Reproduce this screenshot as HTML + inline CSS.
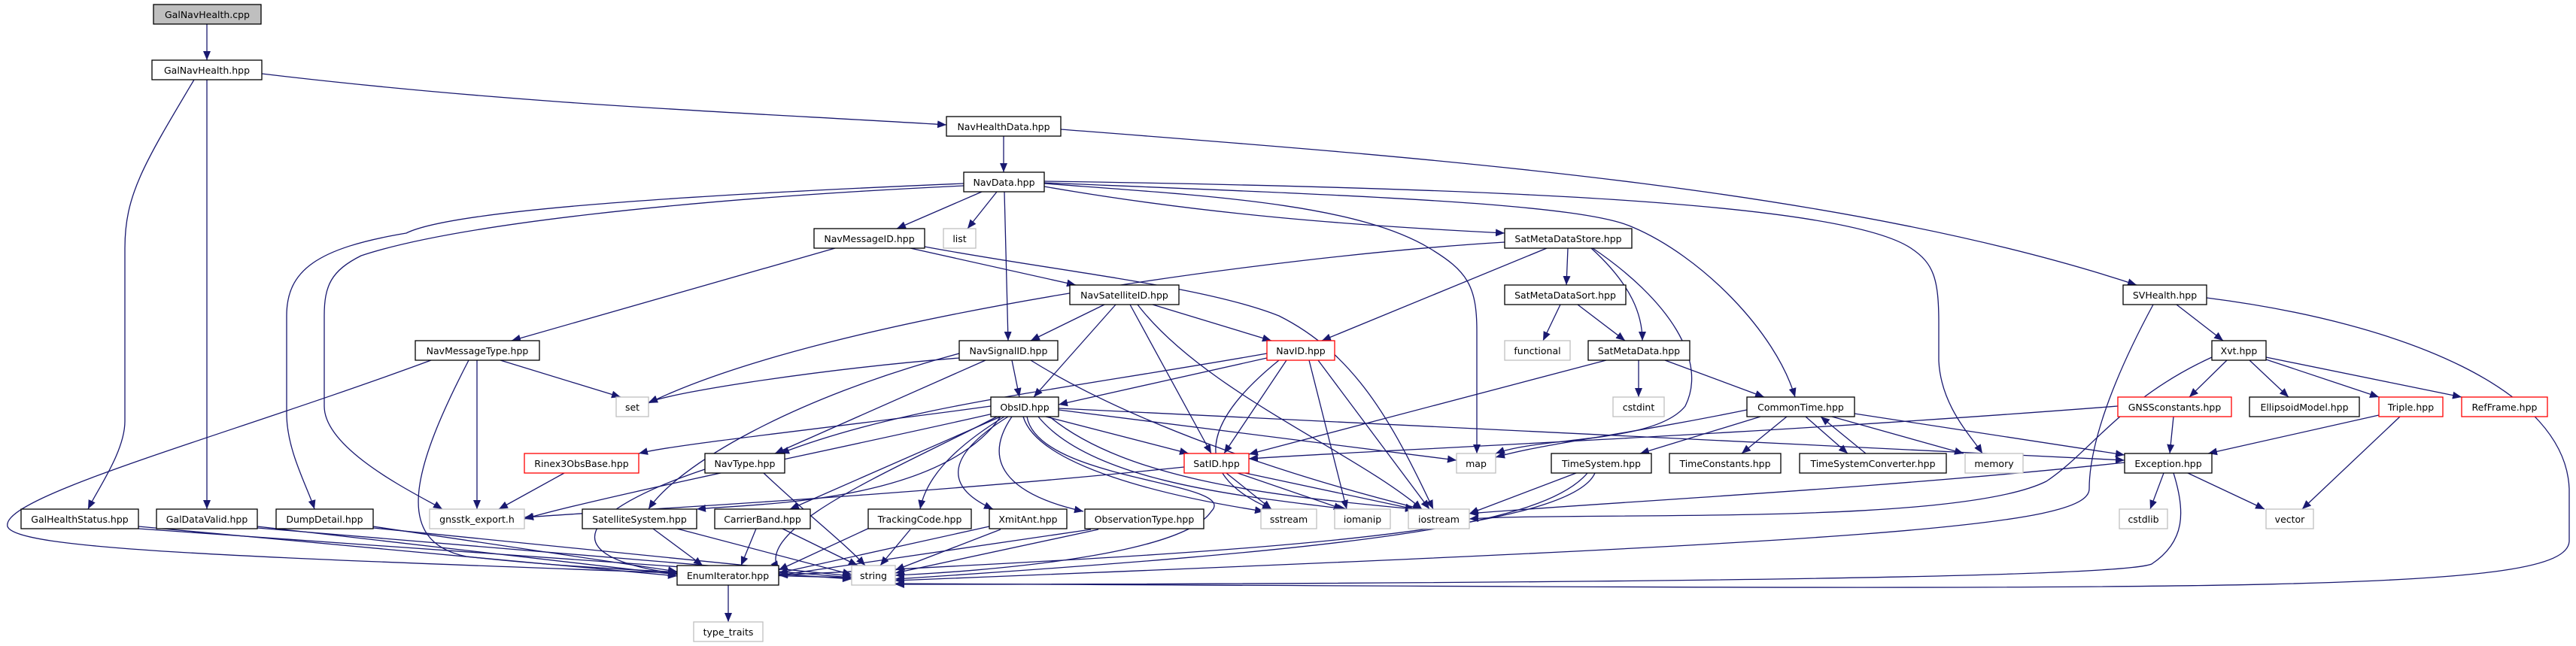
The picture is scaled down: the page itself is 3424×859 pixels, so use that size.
<!DOCTYPE html>
<html><head><meta charset="utf-8"><style>
html,body{margin:0;padding:0;background:#fff;}
svg{display:block;}
text{font-family:"DejaVu Sans","Liberation Sans",sans-serif;font-size:12.5px;fill:#000;text-anchor:middle;}
.e{fill:none;stroke:#191970;stroke-width:1.3;marker-end:url(#a);}
.n{fill:#fff;stroke:#000;stroke-width:1.3;}
.g{fill:#fff;stroke:#bfbfbf;stroke-width:1.3;}
.r{fill:#fff;stroke:#ff0000;stroke-width:1.3;}
</style></head><body>
<svg width="3424" height="859" viewBox="0 0 3424 859" xmlns="http://www.w3.org/2000/svg">
<defs><marker id="a" markerUnits="userSpaceOnUse" markerWidth="12" markerHeight="10" refX="12" refY="5" orient="auto"><path d="M0,0 L12,5 L0,10 z" fill="#191970"/></marker></defs>
<g>
<path class="e" d="M275,32 L275,80"/>
<path class="e" d="M348,98 C700,140 1000,150 1258,166"/>
<path class="e" d="M258,106 C190,220 166,260 166,330 L166,560 C166,600 130,650 117,677"/>
<path class="e" d="M275,106 L275,677"/>
<path class="e" d="M1334,181 L1334,229"/>
<path class="e" d="M1410,172 C1900,210 2450,250 2840,379"/>
<path class="e" d="M1305,255 L1192,304"/>
<path class="e" d="M1325,255 L1286,304"/>
<path class="e" d="M1335,255 L1340,453"/>
<path class="e" d="M1388,248 C1600,285 1800,300 2000,310"/>
<path class="e" d="M1281,244 C900,260 600,280 540,310 C420,330 381,360 381,420 L381,550 C381,600 410,650 418,677"/>
<path class="e" d="M1281,247 C900,265 600,300 480,340 C440,360 431,380 431,420 L431,540 C431,600 560,660 588,677"/>
<path class="e" d="M1388,244 C1600,260 1800,270 1900,330 C1950,360 1963,380 1963,440 L1963,603"/>
<path class="e" d="M1388,243 C1800,260 2100,270 2170,302 C2260,340 2360,440 2386,528"/>
<path class="e" d="M1388,241 C2000,250 2450,270 2540,330 C2570,350 2577,370 2577,430 L2577,480 C2580,540 2620,580 2635,603"/>
<path class="e" d="M1110,330 L680,453"/>
<path class="e" d="M1210,330 L1430,379"/>
<path class="e" d="M1229,328 C1400,360 1600,380 1700,420 C1800,470 1850,560 1905,677"/>
<path class="e" d="M665,479 L825,528"/>
<path class="e" d="M634,479 L634,677"/>
<path class="e" d="M573,479 C300,580 0,660 10,700 C20,730 300,740 900,762"/>
<path class="e" d="M623,479 C550,620 520,720 620,740 C800,760 1000,765 1132,768"/>
<path class="e" d="M2000,322 C1700,340 1100,420 862,536"/>
<path class="e" d="M2056,330 L1757,453"/>
<path class="e" d="M2084,330 L2082,379"/>
<path class="e" d="M2115,330 C2170,380 2183,420 2183,453"/>
<path class="e" d="M2117,330 C2220,400 2270,480 2240,540 C2200,590 2050,580 1988,603"/>
<path class="e" d="M1468,405 L1370,453"/>
<path class="e" d="M1483,405 L1374,528"/>
<path class="e" d="M1532,405 L1690,453"/>
<path class="e" d="M1502,405 L1610,603"/>
<path class="e" d="M1512,405 C1600,520 1800,600 1890,677"/>
<path class="e" d="M2074,405 L2051,453"/>
<path class="e" d="M2097,405 L2160,453"/>
<path class="e" d="M2178,479 L2178,528"/>
<path class="e" d="M2135,479 L1660,604"/>
<path class="e" d="M2213,479 L2345,528"/>
<path class="e" d="M1275,476 C1100,490 900,520 862,535"/>
<path class="e" d="M1345,479 L1355,528"/>
<path class="e" d="M1310,479 L1030,603"/>
<path class="e" d="M1275,470 C1050,530 900,620 862,677"/>
<path class="e" d="M1370,479 C1500,560 1700,630 1890,677"/>
<path class="e" d="M1684,470 C1400,520 1200,540 1037,603"/>
<path class="e" d="M1684,476 L1407,538"/>
<path class="e" d="M1710,479 L1627,603"/>
<path class="e" d="M1700,479 C1600,560 1580,630 1690,677"/>
<path class="e" d="M1740,479 L1790,677"/>
<path class="e" d="M1752,479 L1900,677"/>
<path class="e" d="M1317,540 C1100,570 900,590 849,603"/>
<path class="e" d="M1407,545 L1936,612"/>
<path class="e" d="M1390,554 L1580,603"/>
<path class="e" d="M1407,543 L2824,612"/>
<path class="e" d="M1320,550 C1100,600 800,660 697,690"/>
<path class="e" d="M1330,554 L1050,677"/>
<path class="e" d="M1335,554 C1260,600 1230,640 1223,677"/>
<path class="e" d="M1340,554 C1250,610 1260,650 1320,677"/>
<path class="e" d="M1345,554 C1300,620 1350,660 1440,680"/>
<path class="e" d="M1360,554 C1380,620 1550,660 1680,680"/>
<path class="e" d="M1380,554 C1450,640 1650,660 1790,677"/>
<path class="e" d="M1395,554 C1500,640 1700,660 1880,677"/>
<path class="e" d="M1330,554 C1250,670 1000,670 926,677"/>
<path class="e" d="M1365,554 C1380,640 1650,640 1610,680 C1570,740 1300,760 1190,765"/>
<path class="e" d="M1325,554 C1200,620 1000,700 1035,758"/>
<path class="e" d="M750,629 L663,677"/>
<path class="e" d="M937,624 C770,680 730,740 900,763"/>
<path class="e" d="M1015,629 C1080,690 1120,720 1150,752"/>
<path class="e" d="M1574,621 C1200,660 800,680 697,688"/>
<path class="e" d="M1630,629 L1690,677"/>
<path class="e" d="M1645,629 L1785,677"/>
<path class="e" d="M1655,629 L1880,677"/>
<path class="e" d="M2322,545 C2150,580 2050,590 1988,608"/>
<path class="e" d="M2340,554 L2180,603"/>
<path class="e" d="M2375,554 L2315,603"/>
<path class="e" d="M2400,554 L2456,603"/>
<path class="e" d="M2480,603 L2420,554"/>
<path class="e" d="M2435,554 L2610,603"/>
<path class="e" d="M2465,550 L2824,605"/>
<path class="e" d="M2095,629 L1953,683"/>
<path class="e" d="M2110,629 C2050,700 1800,730 1190,770"/>
<path class="e" d="M2120,629 C2080,720 1500,740 1035,765"/>
<path class="e" d="M2815,540 C2300,580 1800,600 1660,610"/>
<path class="e" d="M2889,554 L2884,603"/>
<path class="e" d="M2960,479 L2910,528"/>
<path class="e" d="M2990,479 L3042,528"/>
<path class="e" d="M3012,478 L3162,528"/>
<path class="e" d="M3012,475 L3272,528"/>
<path class="e" d="M2940,475 C2820,530 2780,600 2720,640 C2600,700 2100,680 1953,690"/>
<path class="e" d="M2893,405 L2955,453"/>
<path class="e" d="M2933,396 C3200,430 3410,520 3415,650 L3415,720 C3410,790 3000,785 1190,776"/>
<path class="e" d="M2862,405 C2800,520 2777,600 2777,650 C2777,700 2500,720 1190,772"/>
<path class="e" d="M3162,552 L2935,603"/>
<path class="e" d="M3190,554 L3060,677"/>
<path class="e" d="M2876,629 L2858,677"/>
<path class="e" d="M2908,629 L3010,677"/>
<path class="e" d="M2889,629 C2905,680 2905,720 2860,750 C2800,775 1500,777 1190,777"/>
<path class="e" d="M2824,615 C2500,650 2100,670 1953,683"/>
<path class="e" d="M184,700 L900,766"/>
<path class="e" d="M184,703 L1132,770"/>
<path class="e" d="M342,700 L900,764"/>
<path class="e" d="M342,702 L1132,768"/>
<path class="e" d="M496,700 L900,760"/>
<path class="e" d="M496,702 L1132,766"/>
<path class="e" d="M868,703 L934,752"/>
<path class="e" d="M900,703 L1132,764"/>
<path class="e" d="M1005,703 L985,752"/>
<path class="e" d="M1040,703 L1140,752"/>
<path class="e" d="M1160,700 L1035,758"/>
<path class="e" d="M1210,704 L1170,752"/>
<path class="e" d="M1315,700 L1035,762"/>
<path class="e" d="M1330,704 L1190,758"/>
<path class="e" d="M1450,704 L1035,765"/>
<path class="e" d="M1460,704 L1190,762"/>
<path class="e" d="M968,778 L968,827"/>
</g>
<g>
<rect x="204" y="6" width="143" height="26" fill="#bfbfbf" stroke="#000" stroke-width="1.3"/><text x="275.5" y="24">GalNavHealth.cpp</text>
<rect class="n" x="202" y="80" width="146" height="26"/><text x="275" y="98">GalNavHealth.hpp</text>
<rect class="n" x="1258" y="155" width="152" height="26"/><text x="1334" y="173">NavHealthData.hpp</text>
<rect class="n" x="1281" y="229" width="107" height="26"/><text x="1334.5" y="247">NavData.hpp</text>
<rect class="n" x="1082" y="304" width="147" height="26"/><text x="1155.5" y="322">NavMessageID.hpp</text>
<rect class="g" x="1254" y="304" width="43" height="26"/><text x="1275.5" y="322">list</text>
<rect class="n" x="2000" y="304" width="169" height="26"/><text x="2084.5" y="322">SatMetaDataStore.hpp</text>
<rect class="n" x="2822" y="379" width="111" height="26"/><text x="2877.5" y="397">SVHealth.hpp</text>
<rect class="n" x="1422" y="379" width="145" height="26"/><text x="1494.5" y="397">NavSatelliteID.hpp</text>
<rect class="n" x="2000" y="379" width="161" height="26"/><text x="2080.5" y="397">SatMetaDataSort.hpp</text>
<rect class="n" x="552" y="453" width="165" height="26"/><text x="634.5" y="471">NavMessageType.hpp</text>
<rect class="n" x="1275" y="453" width="131" height="26"/><text x="1340.5" y="471">NavSignalID.hpp</text>
<rect class="r" x="1684" y="453" width="90" height="26"/><text x="1729" y="471">NavID.hpp</text>
<rect class="g" x="2000" y="453" width="87" height="26"/><text x="2043.5" y="471">functional</text>
<rect class="n" x="2111" y="453" width="135" height="26"/><text x="2178.5" y="471">SatMetaData.hpp</text>
<rect class="n" x="2940" y="453" width="72" height="26"/><text x="2976" y="471">Xvt.hpp</text>
<rect class="g" x="819" y="528" width="43" height="26"/><text x="840.5" y="546">set</text>
<rect class="n" x="1317" y="528" width="90" height="26"/><text x="1362" y="546">ObsID.hpp</text>
<rect class="g" x="2144" y="528" width="68" height="26"/><text x="2178" y="546">cstdint</text>
<rect class="n" x="2322" y="528" width="143" height="26"/><text x="2393.5" y="546">CommonTime.hpp</text>
<rect class="r" x="2815" y="528" width="151" height="26"/><text x="2890.5" y="546">GNSSconstants.hpp</text>
<rect class="n" x="2990" y="528" width="146" height="26"/><text x="3063" y="546">EllipsoidModel.hpp</text>
<rect class="r" x="3162" y="528" width="85" height="26"/><text x="3204.5" y="546">Triple.hpp</text>
<rect class="r" x="3272" y="528" width="114" height="26"/><text x="3329" y="546">RefFrame.hpp</text>
<rect class="r" x="697" y="603" width="152" height="26"/><text x="773" y="621">Rinex3ObsBase.hpp</text>
<rect class="n" x="937" y="603" width="106" height="26"/><text x="990" y="621">NavType.hpp</text>
<rect class="r" x="1574" y="603" width="86" height="26"/><text x="1617" y="621">SatID.hpp</text>
<rect class="g" x="1936" y="603" width="52" height="26"/><text x="1962" y="621">map</text>
<rect class="n" x="2062" y="603" width="133" height="26"/><text x="2128.5" y="621">TimeSystem.hpp</text>
<rect class="n" x="2219" y="603" width="148" height="26"/><text x="2293" y="621">TimeConstants.hpp</text>
<rect class="n" x="2392" y="603" width="195" height="26"/><text x="2489.5" y="621">TimeSystemConverter.hpp</text>
<rect class="g" x="2612" y="603" width="77" height="26"/><text x="2650.5" y="621">memory</text>
<rect class="n" x="2824" y="603" width="116" height="26"/><text x="2882" y="621">Exception.hpp</text>
<rect class="n" x="28" y="677" width="156" height="26"/><text x="106" y="695">GalHealthStatus.hpp</text>
<rect class="n" x="208" y="677" width="134" height="26"/><text x="275" y="695">GalDataValid.hpp</text>
<rect class="n" x="367" y="677" width="129" height="26"/><text x="431.5" y="695">DumpDetail.hpp</text>
<rect class="g" x="571" y="677" width="126" height="26"/><text x="634" y="695">gnsstk_export.h</text>
<rect class="n" x="774" y="677" width="152" height="26"/><text x="850" y="695">SatelliteSystem.hpp</text>
<rect class="n" x="950" y="677" width="127" height="26"/><text x="1013.5" y="695">CarrierBand.hpp</text>
<rect class="n" x="1154" y="677" width="137" height="26"/><text x="1222.5" y="695">TrackingCode.hpp</text>
<rect class="n" x="1315" y="677" width="103" height="26"/><text x="1366.5" y="695">XmitAnt.hpp</text>
<rect class="n" x="1442" y="677" width="158" height="26"/><text x="1521" y="695">ObservationType.hpp</text>
<rect class="g" x="1676" y="677" width="74" height="26"/><text x="1713" y="695">sstream</text>
<rect class="g" x="1774" y="677" width="74" height="26"/><text x="1811" y="695">iomanip</text>
<rect class="g" x="1872" y="677" width="81" height="26"/><text x="1912.5" y="695">iostream</text>
<rect class="g" x="2817" y="677" width="64" height="26"/><text x="2849" y="695">cstdlib</text>
<rect class="g" x="3012" y="677" width="63" height="26"/><text x="3043.5" y="695">vector</text>
<rect class="n" x="900" y="752" width="135" height="26"/><text x="967.5" y="770">EnumIterator.hpp</text>
<rect class="g" x="1132" y="752" width="58" height="26"/><text x="1161" y="770">string</text>
<rect class="g" x="922" y="827" width="92" height="26"/><text x="968" y="845">type_traits</text>
</g>
</svg>
</body></html>
